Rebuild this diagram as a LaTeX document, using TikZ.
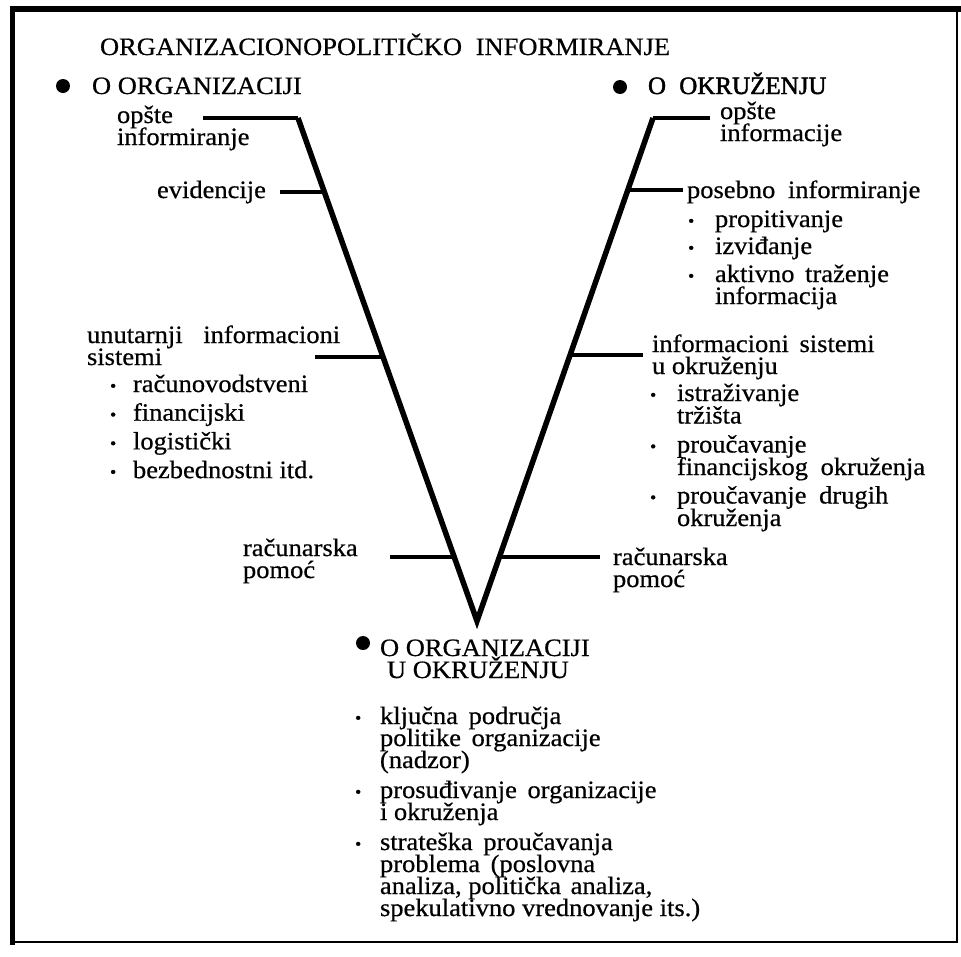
\documentclass[tikz,border=0pt]{standalone}
\usepackage{fontspec}
\setmainfont[FakeStretch=1.06,FakeBold=0.6]{Liberation Serif}
\newfontfamily\headbold[FakeBold=1.8]{Liberation Serif}
\newcommand{\Blk}[2]{\vtop{\baselineskip=#1\lineskiplimit=-1000pt\lineskip=0pt #2}}
\newcommand{\Ln}[1]{\hbox{#1}}
\newcommand{\Bul}{\raisebox{0.5pt}{\fontsize{17}{17}\selectfont\textbullet}}
\newcommand{\Bi}[2]{\hbox{\makebox[#1][l]{\Bul}#2}}
\newcommand{\Ci}[2]{\hbox{\hspace*{#1}#2}}
\tikzset{
  txt/.style={anchor=base west, inner sep=0pt, outer sep=0pt},
  bigdot/.style={circle, fill=black, inner sep=0pt, minimum size=14pt},
  arm/.style={line width=5.5pt, line join=miter},
  tick/.style={line width=3.5pt},
  topbar/.style={line width=4pt},
  frame/.style={line width=#1},
}
\begin{document}
\begin{tikzpicture}[x=1pt, y=-1pt, font=\fontsize{25}{22}\selectfont]
\useasboundingbox (0,0) rectangle (961,956);

% frame
\draw[frame=6pt] (10,8.5) -- (961,8.5);
\draw[frame=5pt] (12.5,6) -- (12.5,945);
\draw[frame=2pt] (957,6) -- (957,943);
\draw[frame=2.5pt] (10,942) -- (958,942);

% title and headings
\node[txt] (title) at (100,55) {ORGANIZACIONOPOLITIČKO\hspace{7pt} INFORMIRANJE};
\node[bigdot] (d1) at (63,86) {};
\node[txt] (h1) at (92,94) {O ORGANIZACIJI};
\node[bigdot] (d2) at (620,87) {};
\node[txt] (h2) at (648,94) {\headbold O\hspace{7pt} OKRUŽENJU};

% V shape
\coordinate (TL) at (298,118);
\coordinate (V) at (477,621);
\coordinate (TR) at (653,118);
\coordinate (oL) at (203,118);
\coordinate (oR) at (710,118);
\draw[arm] (TL) -- (V) -- (TR);
\draw[topbar] (oL) -- (TL);
\draw[topbar] (TR) -- (oR);

% points on the arms and tick ends
\coordinate (a1) at (324.3,192);
\coordinate (a2) at (382.9,357);
\coordinate (a3) at (453.9,557);
\coordinate (t1) at (280,192);
\coordinate (t2) at (315,357);
\coordinate (t3) at (390,557);
\coordinate (b1) at (627.9,190);
\coordinate (b2) at (570.2,355);
\coordinate (b3) at (499.7,557);
\coordinate (s1) at (683,190);
\coordinate (s2) at (643,355);
\coordinate (s3) at (600,557);
\draw[tick] (t1) -- (a1);
\draw[tick] (t2) -- (a2);
\draw[tick] (t3) -- (a3);
\draw[tick] (b1) -- (s1);
\draw[tick] (b2) -- (s2);
\draw[tick] (b3) -- (s3);

% left labels
\node[txt] (lo) at (117,123) {\Blk{22pt}{\Ln{opšte}\Ln{informiranje}}};
\node[txt] (le) at (157,198) {evidencije};
\node[txt] (lu) at (87,343) {\Blk{22pt}{\Ln{unutarnji\hspace{14pt} informacioni}\Ln{sistemi}}};
\node[txt] (ll) at (110,392) {\Blk{28.7pt}{\Bi{23pt}{računovodstveni}\Bi{23pt}{financijski}\Bi{23pt}{logistički}\Bi{23pt}{bezbednostni itd.}}};
\node[txt] (lr) at (243,556) {\Blk{22pt}{\Ln{računarska}\Ln{pomoć}}};

% right labels
\node[txt] (ro) at (720,119) {\Blk{22pt}{\Ln{opšte}\Ln{informacije}}};
\node[txt] (rp) at (687,198) {posebno\hspace{6pt} informiranje};
\node[txt] (rpl) at (688,227) {\Blk{22pt}{\Bi{27pt}{propitivanje}\vskip5pt\Bi{27pt}{izviđanje}\vskip6pt\Bi{27pt}{aktivno\hspace{4pt} traženje}\Ci{27pt}{informacija}}};
\node[txt] (ri) at (652,352) {\Blk{22pt}{\Ln{informacioni\hspace{4pt} sistemi}\Ln{u okruženju}}};
\node[txt] (ril) at (650,401) {\Blk{22.5pt}{\Bi{27pt}{istraživanje}\Ci{27pt}{tržišta}\vskip6.5pt\Bi{27pt}{proučavanje}\Ci{27pt}{financijskog\hspace{6pt} okruženja}\vskip6pt\Bi{27pt}{proučavanje\hspace{6pt} drugih}\Ci{27pt}{okruženja}}};
\node[txt] (rr) at (613,565) {\Blk{22pt}{\Ln{računarska}\Ln{pomoć}}};

% bottom
\node[bigdot] (d3) at (363,643) {};
\node[txt] (bh) at (380,656) {\Blk{22pt}{\Ln{O ORGANIZACIJI}\Ci{7pt}{U OKRUŽENJU}}};
\node[txt] (bl) at (355,724) {\Blk{22pt}{\Bi{25pt}{ključna\hspace{4pt} područja}\Ci{25pt}{politike\hspace{4pt} organizacije}\Ci{25pt}{(nadzor)}\vskip8pt\Bi{25pt}{prosuđivanje\hspace{4pt} organizacije}\Ci{25pt}{i okruženja}\vskip8pt\Bi{25pt}{strateška\hspace{4pt} proučavanja}\Ci{25pt}{problema\hspace{4pt} (poslovna}\Ci{25pt}{analiza, politička\hspace{3pt} analiza,}\Ci{25pt}{spekulativno vrednovanje its.)}}};
\end{tikzpicture}
\end{document}
